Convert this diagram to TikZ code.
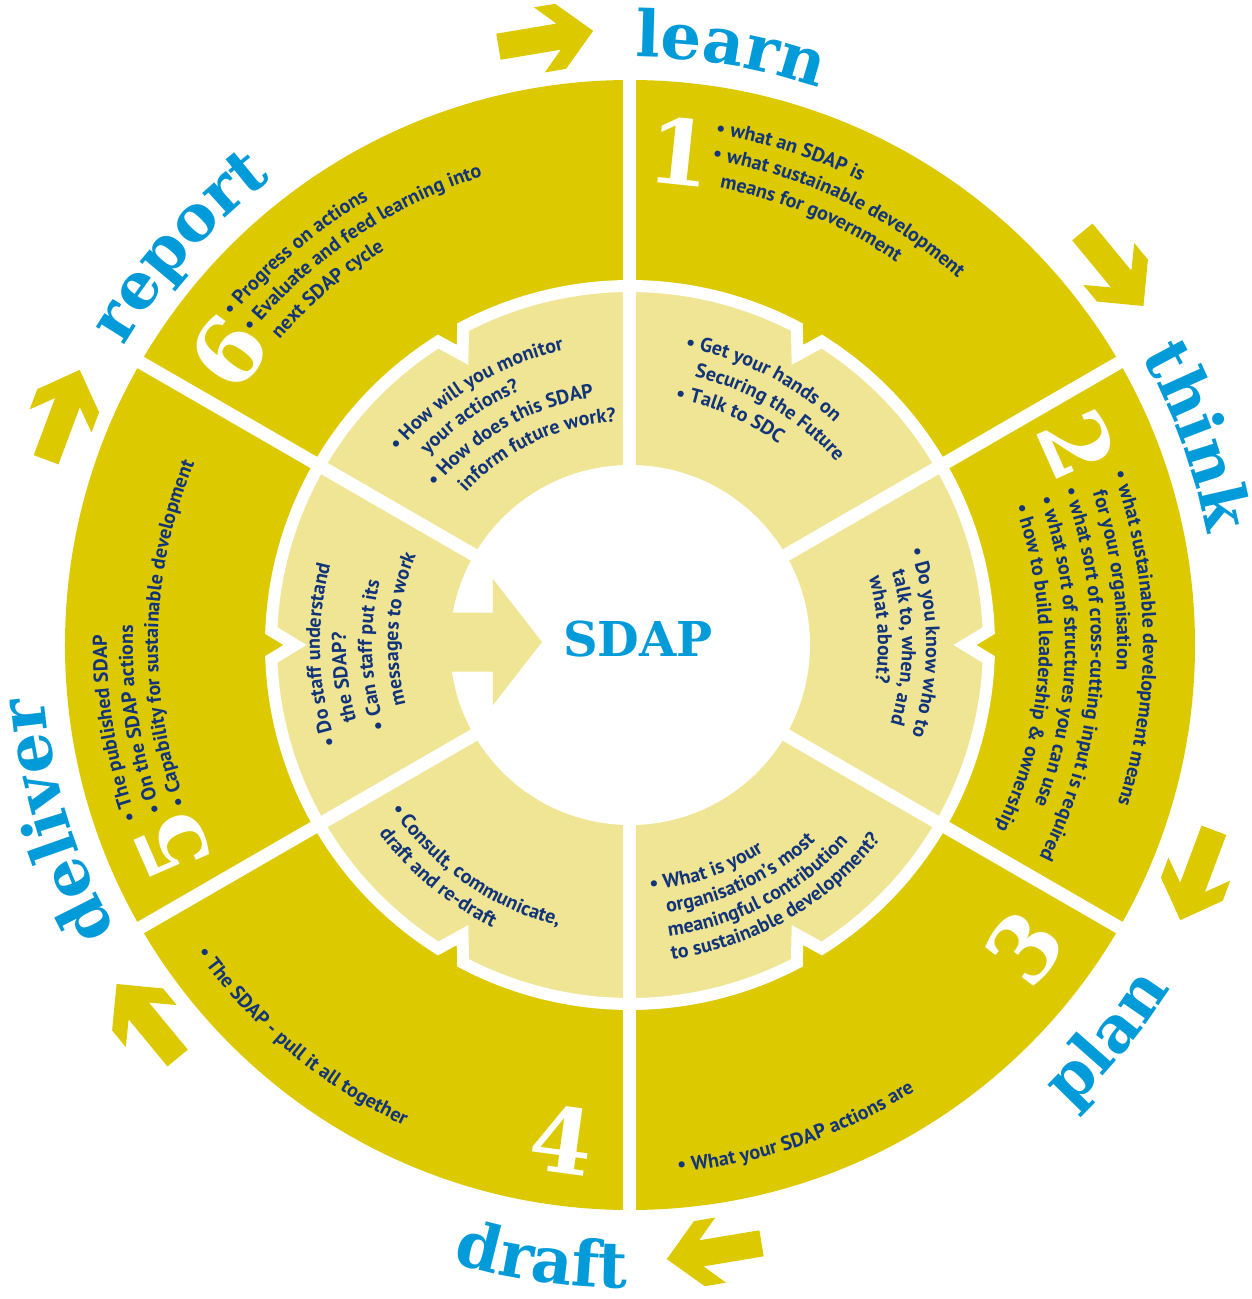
\documentclass[tikz,border=0pt]{standalone}
\usepackage{fontspec}
\usetikzlibrary{decorations.text}
\newfontfamily\bodyf{PT Sans}
\newfontfamily\slabf{DejaVu Serif}
\definecolor{ringdark}{HTML}{DDC900}
\definecolor{ringlight}{HTML}{F0E594}
\definecolor{wordblue}{HTML}{009BD8}
\definecolor{navytext}{HTML}{11347A}
\newcommand\cwline[3]{\path[decorate,decoration={text along path,text color=navytext,text={|\bodyf\bfseries\fontsize{20}{23}\selectfont|#3}}] (#2:#1) arc[start angle=#2,delta angle=-150,radius=#1];}
\newcommand\ccwline[3]{\path[decorate,decoration={text along path,text color=navytext,text={|\bodyf\bfseries\fontsize{20}{23}\selectfont|#3}}] (#2:#1) arc[start angle=#2,delta angle=150,radius=#1];}
\newcommand\cwword[3]{\path[decorate,decoration={text along path,text color=wordblue,text={|\slabf\bfseries\fontsize{64}{64}\selectfont|#3}}] (#2:#1) arc[start angle=#2,delta angle=-60,radius=#1];}
\newcommand\ccwword[3]{\path[decorate,decoration={text along path,text color=wordblue,text={|\slabf\bfseries\fontsize{64}{64}\selectfont|#3}}] (#2:#1) arc[start angle=#2,delta angle=60,radius=#1];}
\tikzset{
  numstyle/.style={font=\slabf\bfseries\fontsize{90}{90}\selectfont,text=white,inner sep=0pt},
  sepline/.style={white,line width=13pt},
}
\begin{document}
\begin{tikzpicture}[x=1pt,y=1pt]
\useasboundingbox (-630,-654) rectangle (622,645);
\fill[white] (-630,-654) rectangle (622,645);
% outer ring
\fill[ringdark] (0,0) circle[radius=565];
% inner light ring with notches
\filldraw[fill=ringlight,draw=white,line width=12pt,miter limit=10]
 (2.3:359) arc[start angle=2.3,end angle=57.7,radius=359] -- (60:335) --
 (62.3:359) arc[start angle=62.3,end angle=117.7,radius=359] -- (120:335) --
 (122.3:359) arc[start angle=122.3,end angle=177.7,radius=359] -- (180:335) --
 (182.3:359) arc[start angle=182.3,end angle=237.7,radius=359] -- (240:335) --
 (242.3:359) arc[start angle=242.3,end angle=297.7,radius=359] -- (300:335) --
 (302.3:359) arc[start angle=302.3,end angle=357.7,radius=359] -- (0:335) -- cycle;
% separators
\foreach \a in {90,30,-30,-90,-150,150} \draw[sepline] (0,0) -- (\a:585);
% centre
\fill[white] (0,0) circle[radius=180];
% arrow into centre
\fill[ringlight] (-200,32.5) -- (-137,32.5) -- (-137,66) -- (-88,3) -- (-137,-60) -- (-137,-26.5) -- (-200,-26.5) -- cycle;
\node[font=\slabf\bfseries\fontsize{48}{48}\selectfont,text=wordblue,inner sep=0pt] (sdap) at (8,6) {SDAP};
% numbers
\node[numstyle,rotate=-6] (n1) at (50,493) {1};
\node[numstyle,rotate=-66] (n2) at (448,200) {2};
\node[numstyle,rotate=52.5] (n3) at (395,-303) {3};
\node[numstyle,rotate=-7.8] (n4) at (-68,-495) {4};
\node[numstyle,rotate=113.6] (n5) at (-458,-200) {5};
\node[numstyle,rotate=53.9] (n6) at (-402,293) {6};
% outer ring texts
\cwline{518}{80.5}{• what an SDAP is}
\cwline{492}{80.4}{• what sustainable development}
\cwline{466}{78.9}{means for government}
\cwline{513}{19.6}{• what sustainable development means}
\cwline{487}{18.2}{for your organisation}
\cwline{461}{19.7}{• what sort of cross-cutting input is required}
\cwline{435}{19.7}{• what sort of structures you can use}
\cwline{409}{19.8}{• how to build leadership {\&} ownership}
\cwline{516}{140.5}{• Progress on actions}
\cwline{491}{140.4}{• Evaluate and feed learning into}
\cwline{465}{138.9}{next SDAP cycle}
\cwline{523}{199.5}{• The published SDAP}
\cwline{497}{199.6}{• On the SDAP actions}
\cwline{472}{199.7}{• Capability for sustainable development}
\ccwline{531}{215.4}{• The SDAP - pull it all together}
\ccwline{529}{-84.8}{• What your SDAP actions are}
% inner ring texts
\cwline{302}{79.5}{• Get your hands on}
\cwline{276}{76.5}{Securing the Future}
\cwline{250}{79.6}{• Talk to SDC}
\cwline{302}{140.2}{• How will you monitor}
\cwline{277}{136.8}{your actions?}
\cwline{250}{141}{• How does this SDAP}
\cwline{224}{137}{inform future work?}
\cwline{296}{18.8}{• Do you know who to}
\cwline{272}{15.6}{talk to, when, and}
\cwline{248}{15.7}{what about?}
\cwline{310}{198.8}{• Do staff understand}
\cwline{284}{195.5}{the SDAP?}
\cwline{258}{198.8}{• Can staff put its}
\cwline{232}{194.8}{messages to work}
\ccwline{290}{214.5}{• Consult, communicate,}
\ccwline{314}{216.9}{draft and re-draft}
\ccwline{246}{-85.3}{• What is your}
\ccwline{270}{-82.1}{organisation’s most}
\ccwline{294}{-82.4}{meaningful contribution}
\ccwline{317}{-82.4}{to sustainable development?}
% cycle arrows
\foreach \a in {98,38,-22,-82,-142,158}{
  \pgfmathsetmacro\rr{\a-88.5}
  \begin{scope}[shift={(\a:612)},rotate=\rr]
    \fill[ringdark] (-47,13.2) -- (14,13.2) -- (-5.5,33) -- (16,33) -- (49,0) -- (16,-33) -- (-5.5,-33) -- (14,-13.2) -- (-47,-13.2) -- cycle;
  \end{scope}
}
% stage words
\cwword{588}{89.5}{learn}
\cwword{588}{29.5}{think}
\ccwword{640}{-46.5}{plan}
\ccwword{643}{-106}{draft}
\cwword{588}{209}{deliver}
\cwword{588}{149.5}{report}
\end{tikzpicture}
\end{document}
